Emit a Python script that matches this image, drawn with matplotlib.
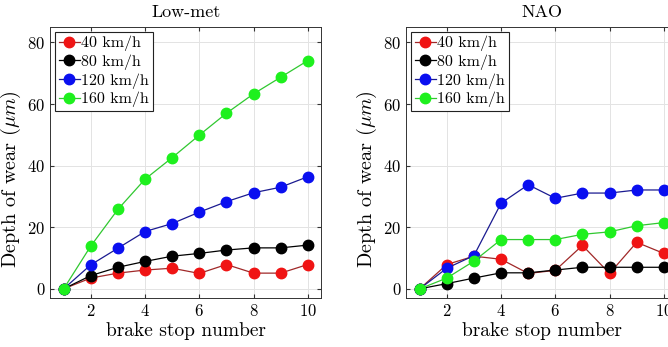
import matplotlib
matplotlib.use("Agg")
import matplotlib.pyplot as plt

plt.rcParams["font.family"] = "serif"
plt.rcParams["font.serif"] = ["cmr10", "DejaVu Serif"]
plt.rcParams["mathtext.fontset"] = "cm"
plt.rcParams["axes.formatter.use_mathtext"] = True

stops = [1, 2, 3, 4, 5, 6, 7, 8, 9, 10]
speeds = ["40 km/h", "80 km/h", "120 km/h", "160 km/h"]

lowmet_40 = [0, 3.5, 5.1, 6.1, 6.7, 5.0, 7.9, 5.1, 5.1, 7.9]
lowmet_80 = [0, 4.3, 7.0, 8.9, 10.6, 11.5, 12.6, 13.3, 13.3, 14.2]
lowmet_120 = [0, 7.8, 13.2, 18.6, 21.2, 24.9, 28.3, 31.2, 33.0, 36.4]
lowmet_160 = [0, 13.9, 25.8, 35.6, 42.6, 49.9, 57.0, 63.3, 68.7, 74.1]

nao_40 = [0, 7.9, 10.6, 9.6, 5.0, 6.0, 14.1, 5.0, 15.1, 11.5]
nao_80 = [0, 1.7, 3.5, 5.2, 5.2, 6.1, 7.0, 7.0, 7.0, 7.0]
nao_120 = [0, 6.7, 10.8, 27.8, 33.8, 29.4, 31.1, 31.1, 32.1, 32.1]
nao_160 = [0, 3.5, 9.0, 16.0, 16.0, 16.0, 17.7, 18.5, 20.5, 21.5]

marker_colors = ["#f01414", "#000000", "#0a0ff0", "#1ef01e"]
line_colors = ["#a02828", "#000000", "#1a1a90", "#30c830"]

panels = [
    ("Low-met", [lowmet_40, lowmet_80, lowmet_120, lowmet_160]),
    ("NAO", [nao_40, nao_80, nao_120, nao_160]),
]

fig = plt.figure(figsize=(6.68, 3.47), dpi=100)
positions = [[0.075, 0.141, 0.406, 0.781], [0.608, 0.141, 0.406, 0.781]]

for pos, (title, series) in zip(positions, panels):
    ax = fig.add_axes(pos)
    for vals, lab, mc, lc in zip(series, speeds, marker_colors, line_colors):
        ax.plot(stops, vals, "-o", color=lc, lw=0.9, markersize=7.5,
                markerfacecolor=mc, markeredgecolor=mc, label=lab)
    ax.set_xlim(0.5, 10.5)
    ax.set_ylim(-3, 85)
    ax.set_xticks([2, 4, 6, 8, 10])
    ax.set_yticks([0, 20, 40, 60, 80])
    ax.grid(True, color="#e3e3e3", lw=0.7)
    ax.set_axisbelow(True)
    ax.tick_params(direction="in", top=True, right=True, length=3,
                   labelsize=12, color="#333333")
    for s in ax.spines.values():
        s.set_color("#333333")
        s.set_linewidth(0.7)
    ax.set_title(title, fontsize=13, pad=7)
    ax.set_xlabel("brake stop number", fontsize=14, labelpad=2)
    ax.set_ylabel(r"Depth of wear ($\mu m$)", fontsize=14.5)
    ax.yaxis.set_label_coords(-0.1, 0.44)
    leg = ax.legend(loc="upper left", fontsize=11.5, handlelength=1.3,
                    handletextpad=0.1, borderpad=0.25, labelspacing=0.2,
                    borderaxespad=0.3, fancybox=False, framealpha=1)
    leg.get_frame().set_edgecolor("#222222")
    leg.get_frame().set_linewidth(0.8)

fig.savefig("out.png", dpi=100)
